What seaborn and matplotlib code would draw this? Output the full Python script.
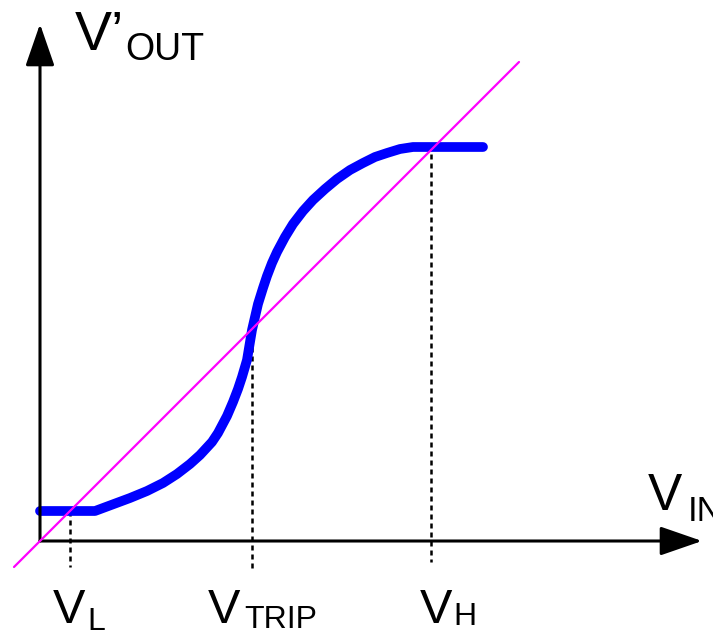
import numpy as np
import matplotlib
matplotlib.use("Agg")
import matplotlib.pyplot as plt
import seaborn as sns

# diagram units: 1 unit = 1 px, origin at the axes corner
curve_x = [0, 55, 90, 107, 123, 137, 150, 160, 172, 178, 187, 193, 198, 202, 207, 212,
           218, 223, 227, 232, 237, 245, 253, 263, 273, 285, 297, 310, 323, 335, 347, 360, 373, 443]
curve_y = [30, 30, 43, 50, 58, 67, 77, 86, 99, 108, 125, 139, 152, 164, 181, 211,
           237, 253, 265, 278, 289, 304, 317, 330, 341, 352, 362, 371, 378, 384, 388, 392, 394, 394]

diag_x = [-26, 479]
diag_y = [-26, 479]

# dotted markers: (x, top, bottom)
v_l = (30, 30, -26)
v_trip = (212, 212, -31)
v_h = (391, 396, -21)

x_axis_end = 662
y_axis_end = 514

sns.set_theme(style="white")
plt.rcParams["font.family"] = ["Liberation Sans", "DejaVu Sans"]
plt.rcParams["text.color"] = "black"

fig = plt.figure(figsize=(7.13, 6.31), dpi=100)
ax = fig.add_axes([0, 0, 1, 1])
ax.set_xlim(-40, 673)
ax.set_ylim(-90, 541)
ax.axis("off")

# axes with arrows
arrow_kw = dict(arrowstyle="-|>,head_length=2.6,head_width=0.9", mutation_scale=10,
                color="black", lw=2.2, shrinkA=0, shrinkB=0)
ax.annotate("", xy=(x_axis_end, 0), xytext=(0, 0), arrowprops=arrow_kw)
ax.annotate("", xy=(0, y_axis_end + 3), xytext=(0, 0), arrowprops=arrow_kw)

# diagonal
ax.plot(diag_x, diag_y, color="#FF00FF", lw=1.6, zorder=3)

# transfer curve
sns.lineplot(x=curve_x, y=curve_y, sort=False, color="#0000FF", lw=7, ax=ax,
             solid_capstyle="round", solid_joinstyle="round", zorder=2)

# dotted guides
for xv, top, bot in [v_l, v_trip, v_h]:
    ax.plot([xv, xv], [top, bot], color="black", lw=1.8, dashes=(2.0, 1.6), zorder=1)

# labels
def label(x, y, main, sub, size, sub_size, dx, dy):
    ax.text(x, y, main, fontsize=size, ha="left", va="baseline", color="black")
    ax.text(x + dx, y - dy, sub, fontsize=sub_size, ha="left", va="baseline", color="black")

label(35, 491, "V’", "OUT", 40, 27, 50, 10)
label(608, 31, "V", "IN", 37, 25, 40, 11)
label(13, -82, "V", "L", 35, 23, 34, 7)
label(168, -82, "V", "TRIP", 35, 23, 36, 5)
label(380, -82, "V", "H", 35, 23, 33, 2)

fig.savefig("out.png", dpi=100)
